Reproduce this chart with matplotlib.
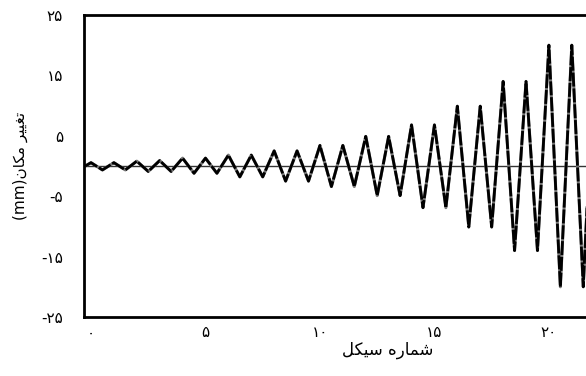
import numpy as np
import matplotlib
matplotlib.use('Agg')
import matplotlib.pyplot as plt

# peaks at whole cycles, valleys at half cycles (mm)
peak_cycle = [0, 1, 2, 3, 4, 5, 6, 7, 8, 9, 10, 11, 12, 13, 14, 15, 16, 17, 18, 19, 20, 21, 22]
peak_amp = [0.55, 0.55, 0.8, 0.9, 1.3, 1.3, 1.8, 1.8, 2.5, 2.5, 3.4, 3.4, 4.9, 4.9,
            6.8, 6.8, 9.9, 9.9, 14.0, 14.0, 20.0, 20.0, 20.0]
valley_cycle = [0.5, 1.5, 2.5, 3.5, 4.5, 5.5, 6.5, 7.5, 8.5, 9.5, 10.5, 11.5, 12.5, 13.5,
                14.5, 15.5, 16.5, 17.5, 18.5, 19.5, 20.5, 21.5]
valley_amp = [-0.65, -0.65, -0.9, -0.9, -1.2, -1.2, -1.8, -1.8, -2.5, -2.5, -3.4, -3.4,
              -4.9, -4.9, -6.9, -6.9, -10.1, -10.1, -14.0, -14.0, -20.0, -20.0]
start = (-0.25, 0.0)

xticks = [0, 5, 10, 15, 20]
yticks = [25, 15, 5, -5, -15, -25]

# persian digits + simple shaping (matplotlib has no RTL/joining support)
fa_digits = str.maketrans('0123456789', '۰۱۲۳۴۵۶۷۸۹')
forms = {
    'ش': ('\uFEB5', '\uFEB6', '\uFEB7', '\uFEB8'),
    'م': ('\uFEE1', '\uFEE2', '\uFEE3', '\uFEE4'),
    'ا': ('\uFE8D', '\uFE8E', None, None),
    'ر': ('\uFEAD', '\uFEAE', None, None),
    'ه': ('\uFEE9', '\uFEEA', '\uFEEB', '\uFEEC'),
    'س': ('\uFEB1', '\uFEB2', '\uFEB3', '\uFEB4'),
    'ی': ('\uFBFC', '\uFBFD', '\uFBFE', '\uFBFF'),
    'ک': ('\uFB8E', '\uFB8F', '\uFB90', '\uFB91'),
    'ل': ('\uFEDD', '\uFEDE', '\uFEDF', '\uFEE0'),
    'ت': ('\uFE95', '\uFE96', '\uFE97', '\uFE98'),
    'غ': ('\uFECD', '\uFECE', '\uFECF', '\uFED0'),
    'ن': ('\uFEE5', '\uFEE6', '\uFEE7', '\uFEE8'),
}


def shape(word):
    out = []
    for i, ch in enumerate(word):
        if ch not in forms:
            out.append(ch)
            continue
        prev = word[i - 1] if i > 0 else ''
        nxt = word[i + 1] if i < len(word) - 1 else ''
        jp = prev in forms and forms[prev][2] is not None
        jn = nxt in forms and forms[ch][2] is not None
        iso, fin, ini, med = forms[ch]
        if jp and jn:
            out.append(med)
        elif jp:
            out.append(fin)
        elif jn:
            out.append(ini)
        else:
            out.append(iso)
    return ''.join(out)[::-1]


def fa(text):
    return ' '.join(shape(w) for w in text.split(' ')[::-1])


x = [start[0]]
y = [start[1]]
for i in range(len(peak_cycle)):
    x.append(peak_cycle[i]); y.append(peak_amp[i])
    if i < len(valley_cycle):
        x.append(valley_cycle[i]); y.append(valley_amp[i])

fig = plt.figure(figsize=(5.86, 3.76), dpi=100)
ax = fig.add_axes([84/586, 1 - 317/376, 1 - 84/586, (317 - 15)/376])

ax.axhline(0, color='#333333', lw=1.0, zorder=1)
ax.plot(x, y, color='#777777', lw=2.2, zorder=2)
ax.plot(x, y, color='black', lw=2.0, ls=(0, (5, 0.7)), zorder=3)

ax.set_xlim(-0.306, 21.62)
ax.set_ylim(-25, 25)
ax.set_xticks(xticks)
ax.set_xticklabels([str(t).translate(fa_digits) for t in xticks], fontsize=11,
                   family='DejaVu Sans')
ax.set_yticks(yticks)
ax.set_yticklabels([str(t).translate(fa_digits) for t in yticks], fontsize=11,
                   family='DejaVu Sans')
ax.tick_params(length=0)
ax.tick_params(axis='x', pad=6)
ax.tick_params(axis='y', pad=15)
for s in ax.spines.values():
    s.set_linewidth(2.0)
ax.spines['right'].set_visible(False)

fig.text(388/586, 1 - 350/376, fa('شماره سیکل'), ha='center', va='center',
         fontsize=12, family='DejaVu Sans')
fig.text(20/586, 1 - 166/376, '(mm)' + fa('تغییر مکان'), ha='center', va='center',
         rotation=90, fontsize=11, family=['DejaVu Sans'])

fig.savefig('out.png', dpi=100)
